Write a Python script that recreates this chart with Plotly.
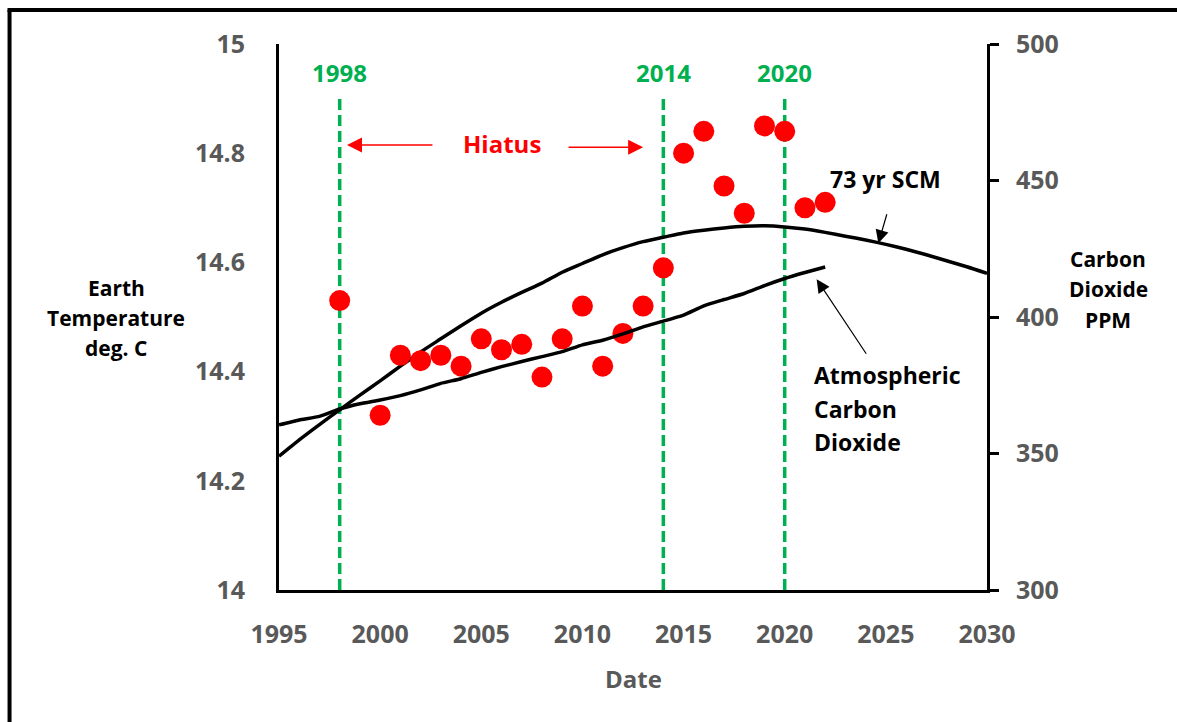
import plotly.graph_objects as go

# ---------------- data ----------------
temp_years = [1998, 2000, 2001, 2002, 2003, 2004, 2005, 2006, 2007, 2008, 2009, 2010,
              2011, 2012, 2013, 2014, 2015, 2016, 2017, 2018, 2019, 2020, 2021, 2022]
temp_values = [14.53, 14.32, 14.43, 14.42, 14.43, 14.41, 14.46, 14.44, 14.45, 14.39, 14.46, 14.52,
               14.41, 14.47, 14.52, 14.59, 14.80, 14.84, 14.74, 14.69, 14.85, 14.84, 14.70, 14.71]

scm_years = list(range(1995, 2031))
scm_values = [14.245, 14.275, 14.303, 14.330, 14.357, 14.383, 14.410, 14.436, 14.460, 14.484,
              14.507, 14.527, 14.545, 14.562, 14.582, 14.598, 14.614, 14.627, 14.638, 14.646,
              14.654, 14.659, 14.663, 14.666, 14.667, 14.665, 14.661, 14.655, 14.648, 14.641,
              14.633, 14.624, 14.614, 14.603, 14.592, 14.580]

co2_years = list(range(1995, 2023))
co2_values = [360.5, 362.3, 363.6, 366.3, 368.2, 369.6, 371.2, 373.3, 375.7, 377.4,
              379.7, 381.8, 383.7, 385.5, 387.3, 389.8, 391.5, 393.8, 396.4, 398.5,
              400.7, 404.1, 406.4, 408.6, 411.5, 414.1, 416.3, 418.3]

marker_years = [1998, 2014, 2020]
x_ticks = [1995, 2000, 2005, 2010, 2015, 2020, 2025, 2030]

FONT = "Open Sans"
GRAY = "#595959"
GREEN = "#00B050"
RED = "#FF0000"

fig = go.Figure()

fig.add_trace(go.Scatter(x=scm_years, y=scm_values, mode="lines",
                         line=dict(color="black", width=3.5, shape="spline", smoothing=0.6),
                         showlegend=False, hoverinfo="skip"))
fig.add_trace(go.Scatter(x=co2_years, y=co2_values, mode="lines", yaxis="y2",
                         line=dict(color="black", width=3.5, shape="spline", smoothing=0.4),
                         showlegend=False, hoverinfo="skip"))
fig.add_trace(go.Scatter(x=temp_years, y=temp_values, mode="markers",
                         marker=dict(color=RED, size=21),
                         showlegend=False))

shapes = []
annotations = []
for yr in marker_years:
    shapes.append(dict(type="line", xref="x", yref="y", x0=yr, x1=yr, y0=14, y1=14.905,
                       line=dict(color=GREEN, width=3.5, dash="11px,5px"), layer="below"))
    annotations.append(dict(x=yr, xref="x", y=0.947, yref="paper", text=str(yr), showarrow=False,
                            font=dict(family=FONT, size=24, color=GREEN, weight="bold"),
                            xanchor="center", yanchor="middle"))

# frame (left and top border)
shapes.append(dict(type="line", xref="paper", yref="paper", x0=-0.3806, x1=-0.3806, y0=-0.3, y1=1.0623,
                   line=dict(color="black", width=4)))
shapes.append(dict(type="line", xref="paper", yref="paper", x0=-0.3835, x1=1.5, y0=1.0623, y1=1.0623,
                   line=dict(color="black", width=4)))

def txt(x, y, text, size, color="black", xref="paper", yref="paper", xanchor="center"):
    annotations.append(dict(x=x, y=y, xref=xref, yref=yref, text=text, showarrow=False,
                            font=dict(family=FONT, size=size, color=color, weight="bold"),
                            xanchor=xanchor, yanchor="middle"))

# Hiatus
txt(2006.0, 14.817, "Hiatus", 24, RED, xref="x", yref="y")
annotations.append(dict(x=1998.36, y=14.815, ax=2002.66, ay=14.815, xref="x", yref="y",
                        axref="x", ayref="y", text="", showarrow=True, arrowhead=2,
                        arrowsize=2, arrowwidth=1.5, arrowcolor=RED))
annotations.append(dict(x=2013.0, y=14.811, ax=2009.24, ay=14.811, xref="x", yref="y",
                        axref="x", ayref="y", text="", showarrow=True, arrowhead=2,
                        arrowsize=2, arrowwidth=1.5, arrowcolor=RED))

# 73 yr SCM
txt(2025.0, 14.753, "73 yr SCM", 23, xref="x", yref="y")
annotations.append(dict(x=2024.63, y=14.635, ax=2025.07, ay=14.691, xref="x", yref="y",
                        axref="x", ayref="y", text="", showarrow=True, arrowhead=2,
                        arrowsize=2.2, arrowwidth=1.2, arrowcolor="black"))

# Atmospheric Carbon Dioxide
for line, ypx in zip(["Atmospheric", "Carbon", "Dioxide"], [375, 409, 442]):
    txt((811.7 - 279) / 708, (590 - ypx) / 546, line, 23, xanchor="left")
annotations.append(dict(x=2021.58, y=14.569, ax=2024.08, ay=14.430, xref="x", yref="y",
                        axref="x", ayref="y", text="", showarrow=True, arrowhead=2,
                        arrowsize=2.2, arrowwidth=1.2, arrowcolor="black"))

# axis titles
for line, ypx in zip(["Earth", "Temperature", "deg. C"], [288, 318, 348]):
    txt((116 - 279) / 708, (590 - ypx) / 546, line, 21)
for line, ypx in zip(["Carbon", "Dioxide", "PPM"], [259, 289, 320]):
    txt((1108 - 279) / 708, (590 - ypx) / 546, line, 21)
txt(0.5, (590 - 678) / 546, "Date", 24, GRAY)

fig.update_layout(
    width=1177, height=722,
    margin=dict(l=279, r=190, t=44, b=132),
    paper_bgcolor="white", plot_bgcolor="white",
    font=dict(family=FONT),
    shapes=shapes, annotations=annotations,
    xaxis=dict(range=[1995, 2030], tickvals=x_ticks, showgrid=False, zeroline=False,
               showline=True, linecolor="black", linewidth=3, ticks="",
               tickfont=dict(family=FONT, size=25, color=GRAY, weight="bold"),
               ticklabelstandoff=20),
    yaxis=dict(range=[14, 15], dtick=0.2, showgrid=False, zeroline=False,
               showline=True, linecolor="black", linewidth=3, ticks="",
               tickfont=dict(family=FONT, size=25, color=GRAY, weight="bold"),
               ticklabelstandoff=26),
    yaxis2=dict(range=[300, 500], dtick=50, overlaying="y", side="right", showgrid=False,
                zeroline=False, showline=True, linecolor="black", linewidth=3,
                ticks="outside", ticklen=9, tickwidth=3, tickcolor="black",
                tickfont=dict(family=FONT, size=25, color=GRAY, weight="bold"),
                ticklabelstandoff=12),
)

fig.write_html("out.html")
